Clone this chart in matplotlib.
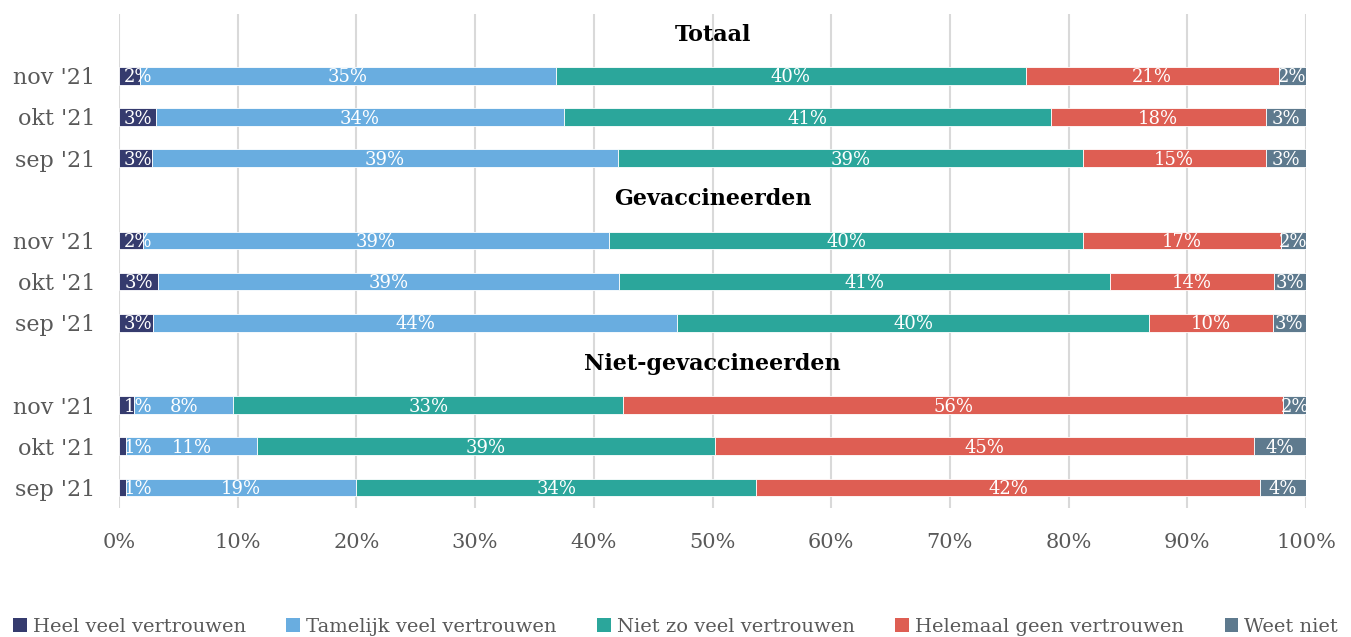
import matplotlib.pyplot as plt
from matplotlib.patches import Patch

plt.rcParams.update({
    'font.family': ['DejaVu Serif'],
    'font.size': 14,
})

# row order top -> bottom, each group gets a heading row first
groups = ["Totaal", "Gevaccineerden", "Niet-gevaccineerden"]
months = ["nov '21", "okt '21", "sep '21"]

series = ["Heel veel vertrouwen", "Tamelijk veel vertrouwen", "Niet zo veel vertrouwen",
          "Helemaal geen vertrouwen", "Weet niet"]
colors = ["#353b6e", "#69ade0", "#2ba69b", "#de5e53", "#5e7a8e"]

# percentages per row, per group (nov, okt, sep)
totaal = [
    [1.8, 35.0, 39.6, 21.3, 2.3],
    [3.1, 34.4, 41.0, 18.1, 3.4],
    [2.8, 39.2, 39.2, 15.4, 3.4],
]
gevaccineerd = [
    [2.0, 39.3, 39.9, 16.7, 2.1],
    [3.3, 38.8, 41.4, 13.8, 2.7],
    [2.9, 44.1, 39.8, 10.4, 2.8],
]
niet_gevaccineerd = [
    [1.3, 8.3, 32.9, 55.6, 1.9],
    [0.6, 11.0, 38.6, 45.4, 4.4],
    [0.6, 19.4, 33.7, 42.4, 3.9],
]
group_data = [totaal, gevaccineerd, niet_gevaccineerd]

fig = plt.figure(figsize=(13.51, 6.37), dpi=100)
ax = fig.add_axes([119 / 1351, 1 - 508 / 637, (1306 - 119) / 1351, (508 - 14) / 637])

ylabels = []
row = 0
for gname, gdata in zip(groups, group_data):
    ax.text(50, row, gname, ha='center', va='center', fontsize=16,
            fontweight='bold', color='black')
    ylabels.append("")
    row += 1
    for month, vals in zip(months, gdata):
        left = 0
        for v, c in zip(vals, colors):
            ax.barh(row, v, left=left, height=0.43, color=c,
                    edgecolor='white', linewidth=0.6, zorder=3)
            mid = left + v / 2
            if left == 0:
                mid = max(mid, 1.6)
            ax.text(mid, row + 0.04, f"{round(v)}%", ha='center', va='center',
                    color='white', fontsize=13, zorder=4, clip_on=True)
            left += v
        ylabels.append(month)
        row += 1

ax.set_yticks(range(len(ylabels)))
ax.set_yticklabels(ylabels, fontsize=16, color='#595959')
ax.set_ylim(len(ylabels) - 0.5, -0.5)
ax.set_xlim(0, 100)
ax.set_xticks(range(0, 101, 10))
ax.set_xticklabels([f"{t}%" for t in range(0, 101, 10)], fontsize=15, color='#595959')
ax.tick_params(axis='both', length=0)
ax.tick_params(axis='x', pad=18)
ax.tick_params(axis='y', pad=17)
ax.grid(axis='x', color='#d9d9d9', linewidth=1.5, zorder=0)
ax.set_axisbelow(True)
for s in ax.spines.values():
    s.set_visible(False)

handles = [Patch(facecolor=c, label=s) for c, s in zip(colors, series)]
fig.legend(handles=handles, loc='center', bbox_to_anchor=(0.5, 0.016), ncol=5,
           frameon=False, fontsize=14, handlelength=0.7, handleheight=0.7,
           handletextpad=0.3, columnspacing=2.1, labelcolor='#595959')

fig.savefig("out.png", dpi=100)
